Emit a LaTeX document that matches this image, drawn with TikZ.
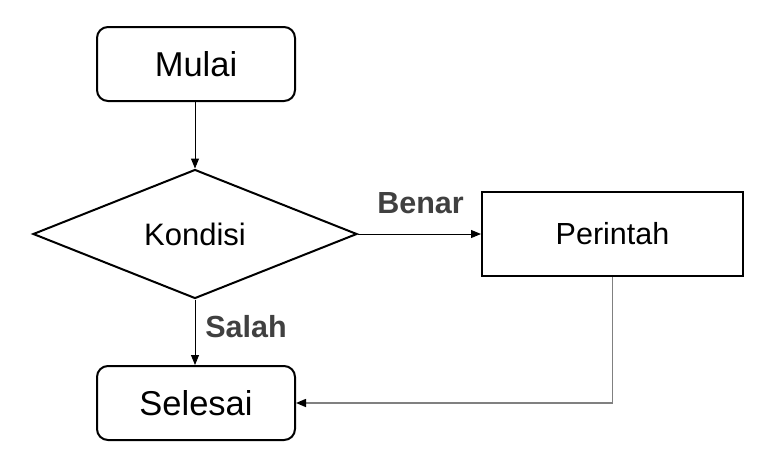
\documentclass[tikz,border=0pt]{standalone}
\usepackage{fontspec}
\setmainfont{Liberation Sans}
\usepackage{tikz}
\usetikzlibrary{shapes.geometric,arrows.meta}

\begin{document}
\begin{tikzpicture}[x=1pt,y=-1pt,
    terminal/.style={draw,line width=2pt,rounded corners=11pt,minimum width=198pt,minimum height=74pt,inner sep=0pt,font=\fontsize{34.5}{40}\selectfont},
    decision/.style={draw,shape=diamond,line width=2pt,minimum width=324pt,minimum height=129pt,inner sep=0pt,font=\fontsize{31}{36}\selectfont},
    process/.style={draw,line width=2pt,minimum width=261pt,minimum height=84pt,inner sep=0pt,font=\fontsize{30.5}{36}\selectfont},
    flow/.style={line width=1pt,-{Triangle[length=10pt,width=8pt]}},
    branch/.style={font=\bfseries\fontsize{30.5}{36}\selectfont,text=black!75,anchor=base}]
        \useasboundingbox (0,0) rectangle (772,472);
        \node[terminal] (mulai) at (196,64) {Mulai};
        \node[decision] (kondisi) at (195,234) {Kondisi};
        \node[process] (perintah) at (612.5,234) {Perintah};
        \node[terminal] (selesai) at (196,403) {Selesai};
        \draw[flow] (mulai.south -| kondisi.north) -- (kondisi.north);
        \draw[flow] (kondisi.east) -- (perintah.west) node[branch] (benar) at (420.5,213) {Benar};
        \draw[flow] (kondisi.south) -- (selesai.north -| kondisi.south) node[branch] (salah) at (246,337) {Salah};
        \draw[line width=1.5pt,gray,-{Triangle[length=10pt,width=8pt,black]}] (perintah.south) |- (selesai.east);
      \end{tikzpicture}
\end{document}
